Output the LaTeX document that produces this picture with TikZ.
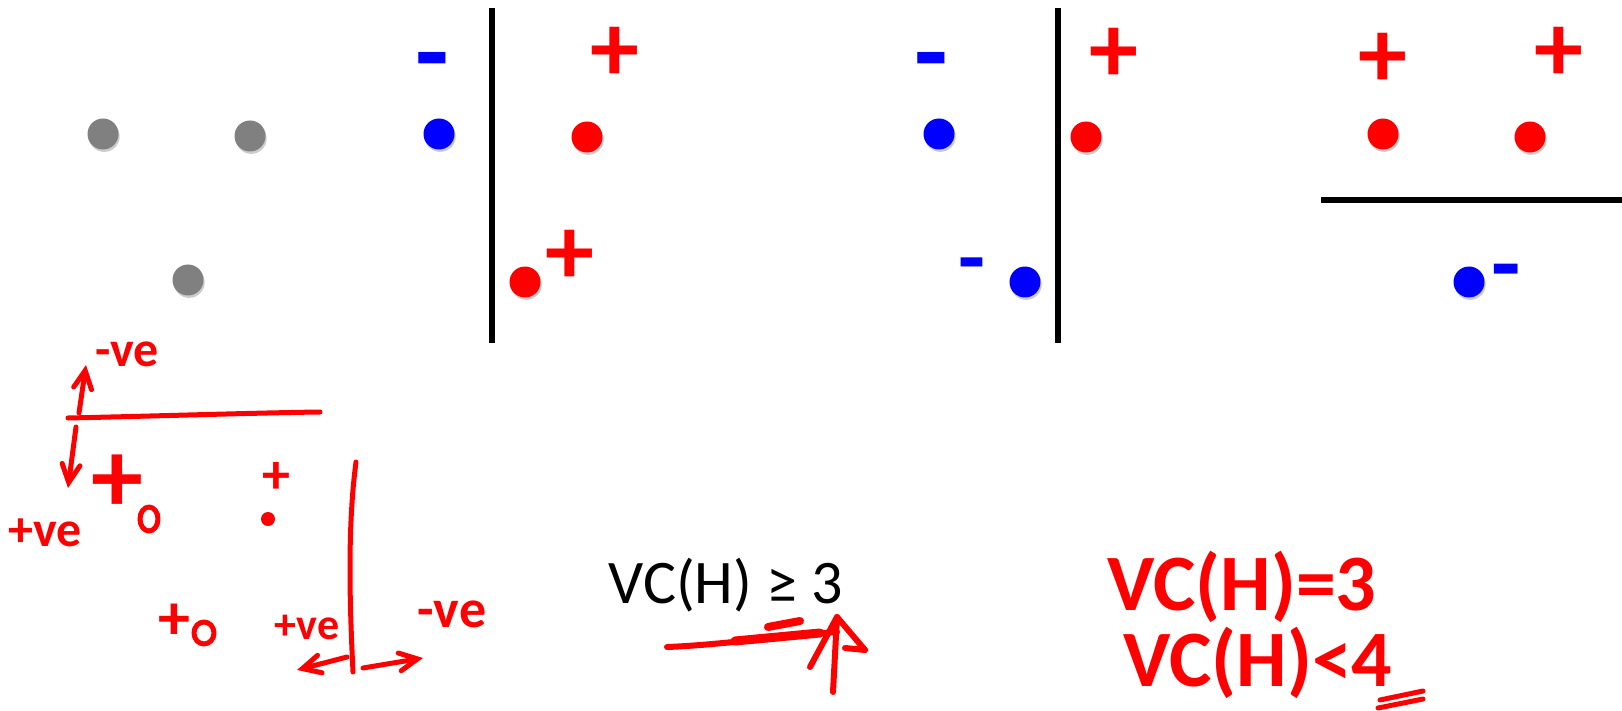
\documentclass[tikz,border=0pt]{standalone}
\usepackage{fontspec}
\setmainfont{Carlito}
\usetikzlibrary{shadows,arrows.meta}
\definecolor{pred}{RGB}{255,0,0}
\definecolor{pblue}{RGB}{0,0,255}
\definecolor{pgray}{RGB}{128,128,128}
\begin{document}
\begin{tikzpicture}[x=0.5pt,y=-0.5pt,
  dot/.style={circle,minimum size=15.5pt,inner sep=0pt,draw=none,
    drop shadow={shadow xshift=0.6pt,shadow yshift=-1.2pt,opacity=0.2,fill=black}},
  reddot/.style={dot,fill=pred},
  bluedot/.style={dot,fill=pblue},
  graydot/.style={dot,fill=pgray},
  sign/.style={inner sep=0pt,font=\bfseries\fontsize{49}{49}\selectfont},
  psign/.style={sign,text=pred},
  msign/.style={sign,text=pblue,anchor=base},
  sepline/.style={line width=3pt,black},
  hand/.style={draw=pred,line width=2.5pt,line cap=round,line join=round},
  handtip/.style={-{Straight Barb[length=9pt,width=9pt,line cap=round]}},
  handtext/.style={inner sep=0pt,text=pred},
]
\useasboundingbox (0,0) rectangle (1622,711);

% ---------- panel 1: gray points ----------
\node[graydot] (g1) at (103,134) {};
\node[graydot] (g2) at (250,136) {};
\node[graydot] (g3) at (188,280) {};

% ---------- panel 2 ----------
\coordinate (v1t) at (492,8);
\coordinate (v1b) at (492,343);
\draw[sepline] (v1t) -- (v1b);
\node[bluedot] (b1) at (439,134) {};
\node[reddot] (r1) at (587,137) {};
\node[reddot] (r2) at (525,282) {};
\node[msign,font=\bfseries\fontsize{55}{55}\selectfont] (m1) at (432,90) {-};
\node[psign] (p1) at (615,54) {+};
\node[psign] (p2) at (570,257) {+};

% ---------- panel 3 ----------
\coordinate (v2t) at (1058,8);
\coordinate (v2b) at (1058,343);
\draw[sepline] (v2t) -- (v2b);
\node[bluedot] (b2) at (939,134) {};
\node[bluedot] (b3) at (1025,282) {};
\node[reddot] (r3) at (1086,137) {};
\node[msign,font=\bfseries\fontsize{55}{55}\selectfont] (m2) at (931,90) {-};
\node[msign,font=\bfseries\fontsize{44}{44}\selectfont] (m3) at (972,287) {-};
\node[psign] (p3) at (1114,55) {+};

% ---------- panel 4 ----------
\coordinate (hl) at (1321,200);
\coordinate (hr) at (1622,200);
\draw[sepline] (hl) -- (hr);
\node[reddot] (r4) at (1383,134) {};
\node[reddot] (r5) at (1530,137) {};
\node[bluedot] (b4) at (1469,282) {};
\node[psign] (p4) at (1383,60) {+};
\node[psign] (p5) at (1559,54) {+};
\node[msign,font=\bfseries\fontsize{48}{48}\selectfont] (m4) at (1506,297) {-};

% ---------- handwritten: horizontal separator ----------
\coordinate (a1) at (68,418);
\coordinate (a2) at (320,412);
\draw[hand] (a1) .. controls (160,416) and (250,413) .. (a2);
\coordinate (u1) at (79,413);
\coordinate (u2) at (86,365);
\draw[hand,handtip] (u1) -- (u2);
\coordinate (d1) at (76,427);
\coordinate (d2) at (68,488);
\draw[hand,handtip] (d1) -- (d2);
\node[handtext,font=\bfseries\fontsize{25}{25}\selectfont] (nve1) at (127,354) {-ve};
\node[handtext,font=\bfseries\fontsize{25}{25}\selectfont] (pve1) at (45,533) {+ve};

% handwritten points
\node[handtext,font=\bfseries\fontsize{52}{52}\selectfont] (hp1) at (117,484) {+};
\node[handtext,font=\bfseries\fontsize{28}{28}\selectfont] (hp2) at (276,478) {+};
\node[handtext,font=\bfseries\fontsize{32}{32}\selectfont] (hp3) at (174,622) {+};
\draw[hand] (149,519) ellipse [x radius=9, y radius=12];
\fill[pred] (268,519) circle [radius=7];
\draw[hand] (204,633) ellipse [x radius=10, y radius=11];

% ---------- handwritten: vertical separator ----------
\coordinate (w1) at (356,462);
\coordinate (w2) at (353,672);
\draw[hand] (w1) .. controls (347,530) and (350,610) .. (w2);
\coordinate (l1) at (347,657);
\coordinate (l2) at (297,670);
\draw[hand,handtip] (l1) -- (l2);
\coordinate (q1) at (363,668);
\coordinate (q2) at (423,658);
\draw[hand,handtip] (q1) -- (q2);
\node[handtext,font=\bfseries\fontsize{22}{22}\selectfont] (pve2) at (307,627) {+ve};
\node[handtext,font=\bfseries\fontsize{27}{27}\selectfont] (nve2) at (452,614) {-ve};

% ---------- VC(H) >= 3 ----------
\node[anchor=base west,inner sep=0pt,font=\fontsize{31}{31}\selectfont] (vc) at (608,603) {VC(H) ≥ 3};
\coordinate (s1) at (667,647);
\coordinate (s2) at (837,632);
\draw[hand,line width=3pt] (s1) .. controls (720,645) and (780,636) .. (s2);
\coordinate (s3) at (735,641);
\coordinate (s4) at (820,633);
\draw[hand,line width=4.5pt] (s3) -- (s4);
\coordinate (k1) at (768,627);
\coordinate (k2) at (800,621);
\draw[hand,line width=4pt] (k1) -- (k2);
\coordinate (t0) at (833,692);
\coordinate (tt) at (837,617);
\coordinate (tl) at (810,667);
\coordinate (tr) at (865,650);
\draw[hand,line width=3pt] (t0) -- (tt);
\draw[hand,line width=3pt] (tl) -- (tt) -- (tr);
\draw[hand,line width=3pt] (tr) -- (845,648);

% ---------- handwritten VC(H)=3, VC(H)<4 ----------
\node[anchor=base west,handtext,font=\bfseries\fontsize{40}{40}\selectfont] (eq1) at (1107,610) {VC(H)=3};
\node[anchor=base west,handtext,font=\bfseries\fontsize{40}{40}\selectfont] (eq2) at (1123,686) {VC(H)<4};
\coordinate (z1) at (1380,700);
\coordinate (z2) at (1423,691);
\coordinate (z3) at (1378,708);
\coordinate (z4) at (1423,699);
\draw[hand] (z1) -- (z2);
\draw[hand] (z3) -- (z4);
\end{tikzpicture}
\end{document}
